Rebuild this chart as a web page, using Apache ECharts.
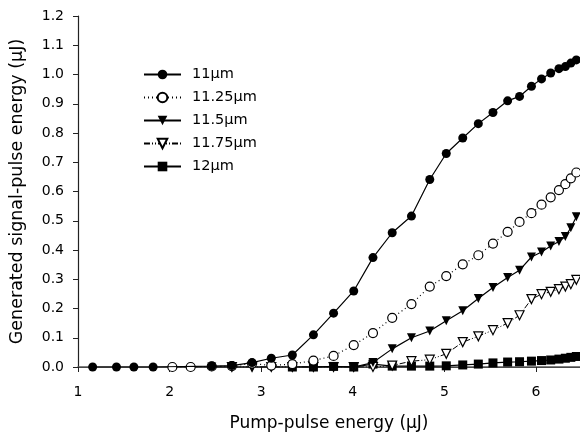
<!DOCTYPE html>
<html>
<head>
<meta charset="utf-8">
<script src="https://cdn.jsdelivr.net/npm/echarts@6/dist/echarts.min.js"></script>
<style>
html,body{margin:0;padding:0;background:#fff;}
#c{width:580px;height:435px;}
</style>
</head>
<body>
<div id="c"></div>
<script>
var pump = [1.16,1.42,1.61,1.82,2.03,2.23,2.46,2.68,2.9,3.11,3.34,3.57,3.79,4.01,4.22,4.43,4.64,4.84,5.02,5.2,5.37,5.53,5.69,5.82,5.95,6.06,6.16,6.25,6.32,6.38,6.44];
var s11 = [0,0,0,0,null,null,0.003,0.005,0.015,0.03,0.041,0.11,0.184,0.26,0.374,0.459,0.516,0.641,0.73,0.783,0.832,0.87,0.91,0.925,0.96,0.985,1.005,1.02,1.027,1.039,1.05];
var s1125 = [null,null,null,null,0,0,0.002,0.003,0.012,0.005,0.01,0.022,0.038,0.075,0.116,0.168,0.215,0.275,0.311,0.351,0.382,0.422,0.462,0.496,0.526,0.555,0.58,0.605,0.625,0.645,0.665];
var s115 = [null,null,null,null,null,null,0,0,0,0,0,0,0,0,0.015,0.062,0.1,0.123,0.158,0.192,0.234,0.272,0.306,0.331,0.376,0.393,0.414,0.429,0.446,0.476,0.514];
var s1175 = [null,null,null,null,null,null,null,0,0,0,0,0,0,0,0,0.005,0.02,0.025,0.045,0.085,0.105,0.126,0.15,0.177,0.232,0.249,0.257,0.266,0.275,0.283,0.298];
var s12 = [null,null,null,null,null,null,null,null,null,null,0,0,0.002,0,0.01,0.003,0.003,0.003,0.004,0.007,0.01,0.014,0.017,0.018,0.02,0.022,0.024,0.027,0.03,0.033,0.036];
var seriesNames = ['11\u00b5m','11.25\u00b5m','11.5\u00b5m','11.75\u00b5m','12\u00b5m'];
var xTitle = 'Pump-pulse energy (\u00b5J)';
var yTitle = 'Generated signal-pulse energy (\u00b5J)';

function pairs(vals){
  var out = [];
  for (var i = 0; i < pump.length; i++) { if (vals[i] !== null) out.push([pump[i], vals[i]]); }
  return out;
}
var FONT = 'DejaVu Sans, sans-serif';
var chart = echarts.init(document.getElementById('c'), null, {renderer:'canvas'});
var common = {type:'line', symbolSize:9, smooth:false, animation:false};
chart.setOption({
  backgroundColor:'#fff',
  animation:false,
  textStyle:{fontFamily:FONT},
  grid:{left:78, top:16, right:0, bottom:68, containLabel:false, outerBoundsMode:'none'},
  legend:{
    orient:'vertical', left:143, top:67, padding:0, itemWidth:37, itemHeight:12, itemGap:8,
    textStyle:{fontFamily:FONT, fontSize:14.5, color:'#000', padding:[0,0,0,6]},
    data:seriesNames
  },
  xAxis:[{
    type:'value', min:1, max:6.48, interval:1,
    name:xTitle, nameLocation:'middle', nameGap:48,
    nameTextStyle:{fontFamily:FONT, fontSize:17, color:'#000'},
    axisLine:{show:true, onZero:false, lineStyle:{color:'#222', width:1.2}},
    axisTick:{show:true, inside:false, length:5, lineStyle:{color:'#222'}},
    axisLabel:{fontFamily:FONT, fontSize:14, color:'#000', margin:18, showMaxLabel:false},
    splitLine:{show:false}
  },{
    type:'value', position:'top', min:1, max:6.48,
    axisLine:{show:true, lineStyle:{color:'#555', width:1.5}},
    axisTick:{show:false}, axisLabel:{show:false}, splitLine:{show:false}
  }],
  yAxis:{
    type:'value', min:0, max:1.2, interval:0.1,
    name:yTitle, nameLocation:'middle', nameGap:52, nameRotate:90,
    nameTextStyle:{fontFamily:FONT, fontSize:17.5, color:'#000'},
    axisLine:{show:true, lineStyle:{color:'#222', width:1.2}},
    axisTick:{show:true, inside:false, length:5, lineStyle:{color:'#222'}},
    axisLabel:{fontFamily:FONT, fontSize:14, color:'#000', margin:14,
      formatter:function(v){return v.toFixed(1);}},
    splitLine:{show:false}
  },
  series:[
    Object.assign({}, common, {name:seriesNames[4], data:pairs(s12), symbol:'rect',
      itemStyle:{color:'#000'}, lineStyle:{color:'#000', width:1.2}, z:2}),
    Object.assign({}, common, {name:seriesNames[3], data:pairs(s1175), symbol:'triangle', symbolRotate:180,
      itemStyle:{color:'#fff', borderColor:'#000', borderWidth:1.2}, lineStyle:{color:'#000', width:1, type:[6,2,1,2,1,2]}, z:3}),
    Object.assign({}, common, {name:seriesNames[2], data:pairs(s115), symbol:'triangle', symbolRotate:180,
      itemStyle:{color:'#000'}, lineStyle:{color:'#000', width:1.2}, z:4}),
    Object.assign({}, common, {name:seriesNames[1], data:pairs(s1125), symbol:'circle',
      itemStyle:{color:'#fff', borderColor:'#000', borderWidth:1.2}, lineStyle:{color:'#000', width:1.2, type:[1,3]}, z:5}),
    Object.assign({}, common, {name:seriesNames[0], data:pairs(s11), symbol:'circle',
      itemStyle:{color:'#000'}, lineStyle:{color:'#000', width:1.2}, z:6})
  ]
});
</script>
</body>
</html>
